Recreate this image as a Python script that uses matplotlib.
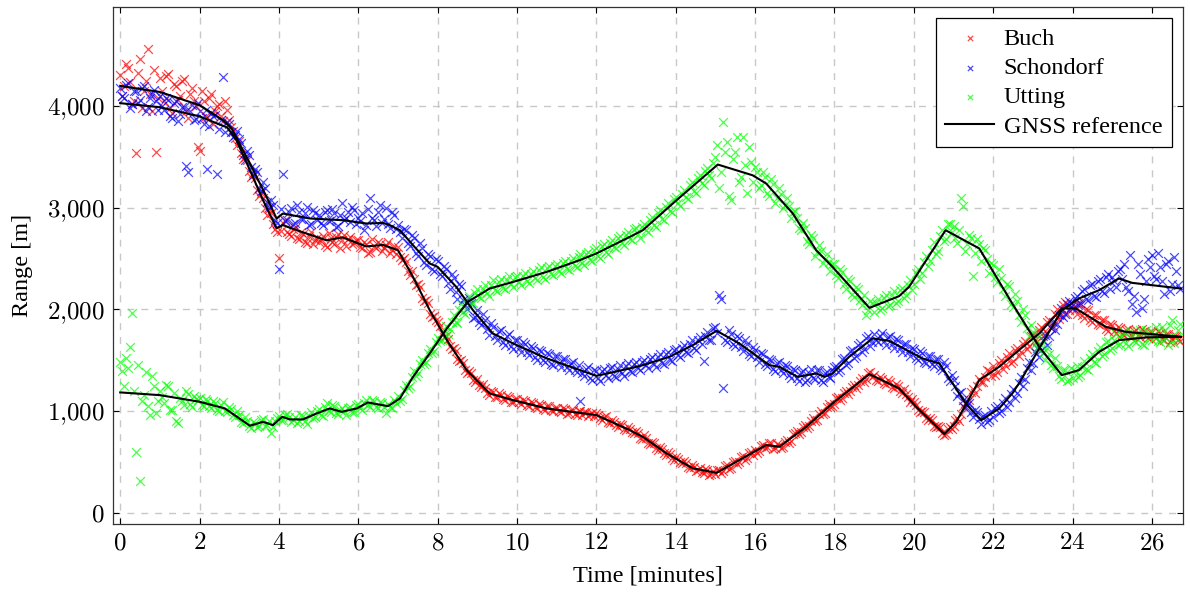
import numpy as np
import matplotlib
matplotlib.use("Agg")
import matplotlib.pyplot as plt
from matplotlib.ticker import FuncFormatter, MultipleLocator

plt.rcParams["font.family"] = ["Liberation Serif", "DejaVu Serif"]
plt.rcParams["mathtext.fontset"] = "cm"

# GNSS reference curves (time [min], range [m])
buch_ref_t = [0, 1, 2, 2.7, 2.93, 3.27, 3.6, 3.94, 4.1, 4.45, 5.2, 5.6, 6.2, 6.63, 7.0, 7.38, 7.8,
              8.23, 8.73, 9.31, 9.9, 10.75, 12.0, 12.84, 13.17, 13.77, 14.43, 15.03, 15.6, 16.28,
              16.61, 17.29, 17.95, 18.88, 19.63, 20.06, 20.77, 21.07, 21.65, 22.15, 22.65, 23.16,
              23.73, 24.08, 24.84, 25.34, 26.73]
buch_ref_r = [4030, 3990, 3900, 3790, 3665, 3370, 3075, 2800, 2830, 2780, 2680, 2710, 2620, 2635,
              2583, 2320, 1993, 1700, 1403, 1174, 1108, 1026, 961, 813, 747, 584, 437, 393, 518, 666,
              649, 846, 1075, 1364, 1223, 1042, 774, 895, 1305, 1436, 1600, 1764, 2010, 2010, 1829,
              1780, 1731]

schon_ref_t = [0, 1, 2, 2.6, 2.81, 3.27, 3.69, 3.94, 4.1, 4.78, 5.62, 6.2, 6.63, 6.8, 6.96, 7.05,
               7.38, 7.8, 8.0, 8.47, 8.89, 9.39, 9.9, 10.75, 12.0, 12.84, 13.17, 13.84, 14.43, 15.03,
               15.6, 16.36, 16.61, 17.07, 17.54, 17.75, 17.95, 18.37, 18.96, 19.38, 20.22, 20.64,
               20.98, 21.31, 21.7, 22.15, 22.48, 22.65, 23.16, 23.73, 24.16, 24.67, 25.17, 25.5, 26.73]
schon_ref_r = [4200, 4140, 4010, 3860, 3780, 3436, 3107, 2895, 2944, 2895, 2878, 2846, 2851, 2829,
               2796, 2780, 2632, 2452, 2419, 2222, 1993, 1764, 1666, 1518, 1347, 1420, 1452, 1534,
               1649, 1790, 1666, 1452, 1436, 1337, 1371, 1337, 1371, 1534, 1715, 1691, 1518, 1469,
               1272, 1075, 911, 1026, 1174, 1272, 1616, 1993, 2108, 2190, 2305, 2262, 2206]

utt_ref_t = [0, 1, 2, 2.64, 3.27, 3.6, 3.85, 4.08, 4.28, 4.6, 4.95, 5.28, 5.58, 5.96, 6.24, 6.46,
             6.75, 7.05, 7.38, 7.8, 8.23, 8.76, 9.31, 9.9, 10.75, 11.58, 12.0, 12.84, 13.17, 14.02,
             15.06, 15.94, 16.28, 16.95, 17.54, 17.95, 18.88, 19.63, 19.88, 20.8, 21.65, 22.48,
             23.16, 23.73, 24.16, 24.67, 25.17, 25.85, 26.73]
utt_ref_r = [1184, 1157, 1092, 1026, 856, 895, 862, 944, 918, 918, 977, 1026, 993, 1026, 1085, 1069,
             1049, 1125, 1337, 1567, 1813, 2075, 2206, 2271, 2370, 2485, 2551, 2714, 2780, 3075,
             3426, 3320, 3239, 2944, 2583, 2419, 2016, 2131, 2222, 2780, 2600, 2059, 1632, 1354,
             1403, 1583, 1698, 1725, 1731]

# measured ranges: one row per minute, samples at m.0, m.1, ... m.9
buch_meas = [
    [4310, 4200, 4380, 4020, 3540, 4460, 4150, 4560, 3950, 3550],
    [4280, 4050, 4320, 3930, 4200, 4100, 4270, 3880, 4180, 4000],
    [3560, 4050, 3880, 4120, 3950, 4020, 3850, 3960, 3800, 3690],
    [3660, 3480, 3470, 3300, 3290, 3120, 3100, 2930, 2950, 2790],
    [2510, 2850, 2760, 2720, 2800, 2690, 2740, 2650, 2760, 2680],
    [2660, 2720, 2610, 2700, 2640, 2740, 2680, 2620, 2710, 2650],
    [2680, 2600, 2640, 2570, 2620, 2660, 2580, 2630, 2560, 2620],
    [2610, 2490, 2470, 2340, 2300, 2250, 2110, 2090, 1960, 1940],
    [1880, 1770, 1740, 1640, 1620, 1510, 1500, 1400, 1390, 1310],
    [1320, 1240, 1230, 1160, 1190, 1140, 1160, 1110, 1140, 1090],
    [1120, 1070, 1100, 1050, 1080, 1030, 1060, 1010, 1050, 1000],
    [1030, 990, 1020, 980, 1010, 960, 1000, 990, 950, 980],
    [980, 930, 940, 890, 910, 860, 870, 820, 840, 790],
    [800, 740, 760, 690, 700, 640, 650, 590, 600, 540],
    [550, 500, 510, 450, 470, 410, 440, 390, 420, 380],
    [380, 420, 410, 470, 440, 510, 500, 560, 540, 600],
    [620, 610, 670, 650, 690, 640, 670, 650, 720, 710],
    [780, 770, 840, 830, 900, 900, 970, 970, 1040, 1040],
    [1070, 1140, 1130, 1200, 1200, 1260, 1260, 1330, 1320, 1380],
    [1360, 1300, 1320, 1270, 1290, 1230, 1250, 1180, 1170, 1090],
    [1090, 1010, 1000, 930, 930, 850, 850, 780, 770, 840],
    [850, 930, 970, 1080, 1110, 1220, 1250, 1290, 1340, 1390],
    [1440, 1380, 1500, 1450, 1570, 1490, 1620, 1580, 1690, 1640],
    [1760, 1690, 1830, 1790, 1900, 1840, 2000, 1950, 2070, 1990],
    [2050, 1960, 2040, 1920, 1990, 1880, 1950, 1850, 1900, 1790],
    [1850, 1770, 1820, 1750, 1810, 1740, 1800, 1730, 1790, 1720],
    [1780, 1720, 1770, 1700, 1760, 1710, 1740, 1690],
]
# samples in between, at m.05, m.15, ... m.95
buch_meas_mid = [
    [4100, 4420, 4240, 4050, 4330, 3980, 4250, 4120, 4360, 4080],
    [4150, 4300, 3980, 4220, 4060, 4250, 3950, 4120, 4050, 3600],
    [4150, 3900, 4080, 3820, 4000, 3900, 4050, 3860, 3760, 3620],
    [3540, 3500, 3360, 3340, 3180, 3150, 3000, 2990, 2840, 2760],
    [2770, 2880, 2740, 2790, 2700, 2760, 2660, 2720, 2640, 2700],
    [2690, 2630, 2750, 2660, 2710, 2600, 2730, 2690, 2640, 2680],
    [2610, 2660, 2560, 2690, 2600, 2640, 2600, 2660, 2590, 2550],
    [2520, 2510, 2380, 2380, 2240, 2220, 2080, 2060, 1930, 1900],
    [1840, 1730, 1710, 1610, 1590, 1490, 1470, 1370, 1370, 1290],
    [1260, 1270, 1180, 1200, 1140, 1180, 1120, 1150, 1090, 1120],
    [1090, 1110, 1060, 1090, 1040, 1070, 1020, 1050, 1010, 1030],
    [1000, 1030, 970, 1010, 970, 1000, 960, 990, 970, 950],
    [960, 910, 950, 880, 890, 840, 860, 810, 820, 780],
    [780, 730, 740, 680, 690, 620, 630, 570, 580, 520],
    [530, 490, 490, 440, 450, 420, 400, 430, 370, 410],
    [420, 390, 460, 430, 500, 480, 550, 520, 590, 570],
    [590, 660, 640, 690, 630, 680, 640, 700, 690, 770],
    [800, 790, 860, 850, 930, 910, 1000, 980, 1070, 1050],
    [1130, 1110, 1180, 1170, 1240, 1230, 1300, 1290, 1370, 1340],
    [1310, 1340, 1280, 1310, 1240, 1270, 1200, 1220, 1140, 1120],
    [1060, 990, 990, 910, 910, 840, 840, 760, 820, 820],
    [910, 900, 1050, 1060, 1190, 1180, 1320, 1290, 1400, 1350],
    [1360, 1470, 1410, 1530, 1470, 1600, 1540, 1660, 1610, 1740],
    [1700, 1800, 1740, 1880, 1820, 1960, 1910, 2040, 1960, 2060],
    [1990, 2060, 1950, 2000, 1900, 1950, 1860, 1900, 1810, 1860],
    [1790, 1830, 1760, 1800, 1730, 1790, 1750, 1810, 1740, 1780],
    [1740, 1790, 1710, 1760, 1680, 1740, 1700],
]

schon_meas = [
    [4180, 4080, 4230, 4020, 4150, 4060, 4200, 3990, 4120, 4050],
    [4100, 3960, 4060, 3880, 4050, 3920, 3990, 3350, 4010, 3870],
    [3950, 3820, 3380, 3930, 3910, 3780, 4290, 3840, 3750, 3720],
    [3680, 3520, 3560, 3400, 3380, 3200, 3250, 3060, 3080, 2880],
    [2400, 3330, 2880, 3000, 2850, 2960, 2890, 3010, 2840, 2950],
    [2930, 2830, 2980, 2880, 2950, 2820, 3050, 2900, 2860, 2980],
    [2900, 2950, 2830, 3100, 2880, 2960, 2850, 3000, 2800, 2930],
    [2830, 2700, 2780, 2620, 2700, 2530, 2600, 2440, 2530, 2380],
    [2480, 2330, 2400, 2200, 2310, 2100, 2230, 2040, 2110, 1920],
    [1990, 1850, 1900, 1750, 1830, 1700, 1800, 1650, 1760, 1610],
    [1700, 1580, 1660, 1550, 1620, 1500, 1590, 1480, 1560, 1450],
    [1540, 1430, 1510, 1400, 1480, 1380, 1100, 1350, 1430, 1310],
    [1390, 1300, 1410, 1330, 1430, 1340, 1450, 1350, 1470, 1380],
    [1480, 1400, 1500, 1420, 1530, 1430, 1560, 1460, 1580, 1490],
    [1610, 1530, 1650, 1570, 1700, 1600, 1730, 1490, 1780, 1700],
    [1830, 2140, 1230, 1680, 1760, 1640, 1720, 1590, 1660, 1540],
    [1600, 1480, 1560, 1440, 1500, 1390, 1480, 1370, 1440, 1330],
    [1400, 1300, 1390, 1310, 1410, 1320, 1400, 1290, 1380, 1330],
    [1430, 1380, 1510, 1450, 1590, 1520, 1650, 1580, 1720, 1640],
    [1760, 1680, 1770, 1650, 1740, 1620, 1700, 1580, 1660, 1540],
    [1610, 1500, 1570, 1470, 1540, 1440, 1510, 1400, 1440, 1300],
    [1310, 1150, 1190, 1030, 1080, 940, 990, 870, 960, 910],
    [940, 1050, 1000, 1130, 1090, 1220, 1180, 1340, 1320, 1480],
    [1470, 1620, 1600, 1750, 1740, 1880, 1860, 2010, 1960, 2080],
    [2010, 2130, 2060, 2200, 2090, 2250, 2120, 2300, 2160, 2350],
    [2320, 2220, 2400, 2450, 2180, 2050, 1980, 2350, 2100, 2500],
    [2540, 2300, 2420, 2150, 2480, 2250, 2380, 2200],
]
schon_meas_mid = [
    [4100, 4210, 3980, 4150, 4030, 4180, 3950, 4080, 4160, 3960],
    [4000, 4080, 3900, 4030, 3850, 3990, 3410, 3950, 3860, 4030],
    [3880, 3960, 3810, 3900, 3330, 3860, 3750, 3820, 3700, 3760],
    [3640, 3470, 3520, 3320, 3350, 3170, 3200, 3010, 3030, 2850],
    [2990, 2870, 2960, 2840, 3030, 2890, 2950, 2830, 2980, 2880],
    [2850, 2960, 2870, 2990, 2810, 2930, 2880, 2960, 3010, 2840],
    [2870, 2780, 2990, 2900, 2820, 3030, 2890, 2840, 2960, 2790],
    [2760, 2790, 2650, 2730, 2560, 2650, 2470, 2550, 2400, 2500],
    [2350, 2430, 2260, 2350, 2170, 2250, 2090, 2000, 2060, 1930],
    [1880, 1960, 1810, 1870, 1740, 1790, 1680, 1740, 1640, 1700],
    [1620, 1680, 1580, 1640, 1530, 1600, 1500, 1570, 1460, 1540],
    [1470, 1510, 1430, 1470, 1400, 1450, 1370, 1410, 1330, 1400],
    [1330, 1390, 1360, 1420, 1350, 1410, 1370, 1440, 1390, 1460],
    [1420, 1480, 1450, 1510, 1460, 1530, 1470, 1560, 1500, 1600],
    [1550, 1620, 1580, 1660, 1620, 1700, 1660, 1740, 1700, 1820],
    [1770, 2100, 1700, 1800, 1660, 1740, 1630, 1700, 1560, 1630],
    [1530, 1570, 1460, 1510, 1410, 1470, 1400, 1450, 1360, 1410],
    [1330, 1380, 1290, 1370, 1330, 1400, 1310, 1370, 1340, 1400],
    [1440, 1400, 1520, 1470, 1600, 1540, 1670, 1610, 1740, 1680],
    [1700, 1740, 1690, 1730, 1660, 1710, 1620, 1660, 1580, 1620],
    [1520, 1590, 1480, 1540, 1460, 1510, 1420, 1480, 1330, 1360],
    [1250, 1180, 1110, 1090, 990, 1010, 920, 950, 890, 1000],
    [1030, 980, 1080, 1040, 1170, 1130, 1280, 1250, 1420, 1400],
    [1580, 1530, 1700, 1650, 1820, 1800, 1950, 1930, 2050, 2020],
    [2110, 2040, 2180, 2100, 2240, 2130, 2280, 2180, 2320, 2200],
    [2280, 2380, 2300, 2220, 2540, 2130, 2450, 2010, 2280, 2420],
    [2330, 2560, 2280, 2450, 2180, 2520, 2240],
]

utt_meas = [
    [1480, 1250, 1420, 1970, 600, 310, 1160, 1050, 1350, 980],
    [1200, 1080, 1250, 1010, 900, 1130, 1060, 1170, 1040, 1120],
    [1130, 1050, 1100, 1030, 1080, 1000, 1090, 990, 1020, 940],
    [960, 880, 900, 830, 880, 850, 920, 860, 780, 900],
    [950, 910, 970, 890, 940, 900, 950, 870, 990, 940],
    [1020, 950, 1080, 990, 1050, 970, 1030, 960, 1040, 990],
    [1070, 1010, 1110, 1040, 1100, 1030, 1080, 980, 1040, 1110],
    [1150, 1120, 1260, 1250, 1390, 1370, 1500, 1480, 1610, 1590],
    [1720, 1700, 1840, 1810, 1950, 1870, 2050, 1960, 2130, 2060],
    [2200, 2110, 2240, 2130, 2290, 2180, 2300, 2200, 2330, 2220],
    [2330, 2240, 2360, 2260, 2380, 2290, 2420, 2300, 2430, 2340],
    [2450, 2360, 2480, 2390, 2510, 2420, 2550, 2440, 2570, 2480],
    [2600, 2510, 2640, 2550, 2680, 2600, 2720, 2630, 2760, 2680],
    [2800, 2700, 2840, 2760, 2910, 2810, 2980, 2880, 3050, 2960],
    [3110, 3020, 3180, 3090, 3250, 3150, 3320, 3220, 3390, 3290],
    [3500, 3200, 3840, 3650, 3080, 3550, 3250, 3700, 3150, 3450],
    [3400, 3200, 3350, 3150, 3280, 3050, 3200, 3000, 3100, 2900],
    [2970, 2800, 2850, 2670, 2730, 2530, 2630, 2460, 2550, 2380],
    [2450, 2310, 2370, 2200, 2280, 2120, 2200, 2040, 1950, 2080],
    [1980, 2100, 2010, 2140, 2040, 2180, 2080, 2210, 2140, 2290],
    [2250, 2400, 2360, 2530, 2480, 2660, 2580, 2780, 2690, 2840],
    [2820, 2650, 3100, 2580, 2730, 2330, 2690, 2480, 2590, 2360],
    [2440, 2270, 2310, 2130, 2230, 2020, 2080, 1880, 1950, 1740],
    [1780, 1620, 1650, 1500, 1560, 1420, 1440, 1320, 1400, 1310],
    [1330, 1440, 1360, 1490, 1400, 1560, 1470, 1630, 1560, 1690],
    [1620, 1760, 1660, 1780, 1640, 1750, 1680, 1800, 1650, 1770],
    [1700, 1830, 1680, 1790, 1650, 1900, 1720, 1860],
]
utt_meas_mid = [
    [1390, 1520, 1630, 1200, 1450, 1100, 1380, 960, 1250, 1100],
    [1140, 1260, 1010, 1180, 880, 1100, 1200, 1070, 1150, 1110],
    [1060, 1120, 1050, 1100, 1010, 1060, 1000, 1040, 960, 1000],
    [890, 940, 850, 890, 840, 910, 850, 900, 840, 930],
    [910, 960, 940, 910, 880, 960, 900, 950, 930, 1000],
    [960, 1040, 1000, 1060, 980, 1010, 1000, 1030, 990, 1060],
    [1030, 1080, 1060, 1110, 1040, 1090, 1040, 1070, 1030, 1080],
    [1100, 1210, 1230, 1340, 1350, 1460, 1460, 1570, 1570, 1680],
    [1690, 1770, 1760, 1880, 1880, 1990, 1980, 2070, 2050, 2160],
    [2120, 2200, 2160, 2240, 2190, 2270, 2210, 2290, 2250, 2320],
    [2270, 2330, 2280, 2350, 2310, 2390, 2320, 2410, 2350, 2430],
    [2380, 2460, 2400, 2480, 2430, 2520, 2460, 2550, 2490, 2590],
    [2530, 2620, 2570, 2650, 2610, 2700, 2650, 2730, 2690, 2790],
    [2740, 2810, 2780, 2880, 2830, 2950, 2890, 3010, 2970, 3090],
    [3050, 3140, 3110, 3220, 3170, 3290, 3240, 3360, 3320, 3440],
    [3620, 3350, 3550, 3120, 3480, 3700, 3300, 3420, 3600, 3250],
    [3350, 3220, 3300, 3120, 3230, 3100, 3140, 3030, 3020, 2960],
    [2900, 2780, 2800, 2640, 2700, 2570, 2580, 2500, 2470, 2450],
    [2340, 2400, 2250, 2300, 2150, 2220, 2090, 2140, 1990, 2060],
    [2060, 1990, 2110, 2030, 2140, 2060, 2190, 2110, 2240, 2190],
    [2360, 2300, 2470, 2430, 2590, 2550, 2720, 2670, 2840, 2760],
    [2700, 2780, 3020, 2640, 2700, 2560, 2640, 2600, 2500, 2460],
    [2320, 2400, 2200, 2250, 2050, 2150, 1950, 2000, 1820, 1850],
    [1660, 1740, 1570, 1620, 1450, 1520, 1350, 1400, 1300, 1420],
    [1390, 1340, 1430, 1410, 1520, 1480, 1590, 1540, 1680, 1600],
    [1700, 1650, 1740, 1670, 1790, 1690, 1750, 1660, 1800, 1720],
    [1760, 1690, 1830, 1720, 1850, 1670, 1800],
]


def unroll(rows, offset=0.0):
    t, r = [], []
    for minute, row in enumerate(rows):
        for i, v in enumerate(row):
            t.append(minute + offset + i / 10)
            r.append(v)
    return t, r


fig = plt.figure(figsize=(11.9, 5.92), dpi=100)
ax = fig.add_axes([0.095, 0.115, 0.899, 0.873])

for rows, mid, c, name in [(buch_meas, buch_meas_mid, "#ff0000", "Buch"),
                           (schon_meas, schon_meas_mid, "#0000ff", "Schondorf"),
                           (utt_meas, utt_meas_mid, "#00ff00", "Utting")]:
    t1, r1 = unroll(rows)
    t2, r2 = unroll(mid, 0.05)
    ax.scatter(np.array(t1 + t2), np.array(r1 + r2), marker="x", s=40, lw=0.9, color=c,
               alpha=0.7, label=name, zorder=3)

ax.plot(buch_ref_t, buch_ref_r, color="black", lw=1.5, label="GNSS reference", zorder=4)
ax.plot(schon_ref_t, schon_ref_r, color="black", lw=1.5, zorder=4)
ax.plot(utt_ref_t, utt_ref_r, color="black", lw=1.5, zorder=4)

ax.set_xlim(-0.18, 26.78)
ax.set_ylim(-110, 4975)
ax.xaxis.set_major_locator(MultipleLocator(2))
ax.yaxis.set_major_locator(MultipleLocator(1000))
ax.xaxis.set_major_formatter(FuncFormatter(lambda v, p: f"${v:.0f}$"))
ax.yaxis.set_major_formatter(FuncFormatter(lambda v, p: "$" + f"{v:,.0f}".replace(",", "{,}") + "$"))
ax.tick_params(direction="in", top=True, right=True, length=4, width=0.8, labelsize=18, pad=6)
ax.grid(True, color="#c8c8c8", ls=(0, (5, 5)), lw=1.0)
ax.set_axisbelow(True)
for s in ax.spines.values():
    s.set_linewidth(0.9)
    s.set_color("#333333")

ax.set_xlabel("Time [minutes]", fontsize=17.5, labelpad=8)
ax.set_ylabel("Range [m]", fontsize=17.5, labelpad=10)

leg = ax.legend(loc="upper right", fontsize=17.5, fancybox=False, edgecolor="black", framealpha=1,
                scatterpoints=1, markerscale=0.6, borderaxespad=0.45, handlelength=2.0,
                handletextpad=0.4, labelspacing=0.3, borderpad=0.4)
leg.get_frame().set_linewidth(0.9)

fig.savefig("out.png", dpi=100)
